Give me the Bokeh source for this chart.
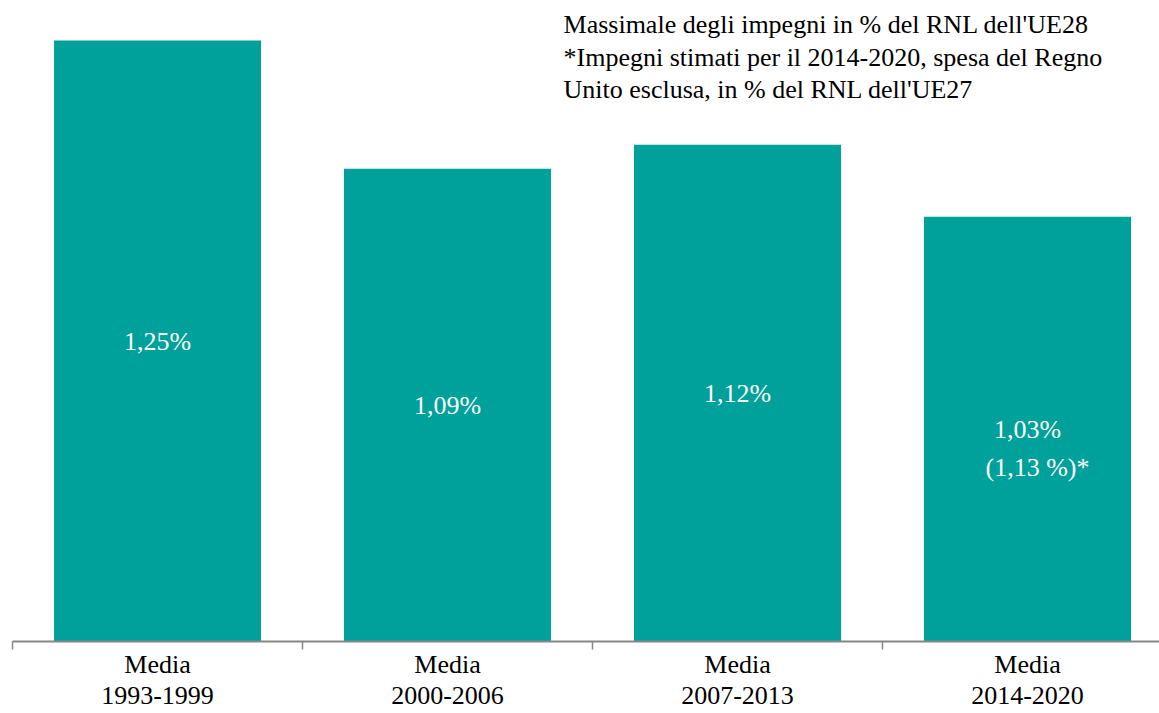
from bokeh.plotting import figure
from bokeh.models import Range1d, FixedTicker, ColumnDataSource, Label, LinearAxis
from bokeh.embed import file_html
from bokeh.resources import INLINE
from bokeh.core.properties import value

# ---- data ----
categories = ["Media\n1993-1999", "Media\n2000-2006", "Media\n2007-2013", "Media\n2014-2020"]
values = [1.25, 1.09, 1.12, 1.03]
value_labels = ["1,25%", "1,09%", "1,12%", "1,03%"]
extra_label = "(1,13 %)*"
note_lines = [
    "Massimale degli impegni in % del RNL dell'UE28",
    "*Impegni stimati per il 2014-2020, spesa del Regno",
    "Unito esclusa, in % del RNL dell'UE27",
]

BAR = "#00A19B"
FONT = "Liberation Serif"
y0 = 0.5

xs = [i + 0.5 for i in range(len(categories))]
mids = [(v + y0) / 2 for v in values]
src = ColumnDataSource(dict(x=xs, top=values, mid=mids, lab=value_labels))

p = figure(width=1159, height=713, output_backend="svg", toolbar_location=None,
           x_range=Range1d(0, 3.955), y_range=Range1d(y0, 1.3),
           x_axis_location=None, y_axis_location=None,
           min_border_left=12, min_border_right=0, min_border_top=0, min_border_bottom=72)
p.outline_line_color = None
p.grid.visible = False

p.vbar(x="x", top="top", bottom=y0, width=0.714, source=src,
       fill_color=BAR, line_color=None)

p.text(x="x", y="mid", text="lab", source=src, text_color="white",
       text_font=value(FONT), text_font_size="26px",
       text_align="center", text_baseline="middle")

p.text(x=[xs[3]], y=[mids[3]], text=[extra_label], text_color="white",
       text_font=value(FONT), text_font_size="26px",
       text_align="center", text_baseline="middle", x_offset=10, y_offset=38)

ax = LinearAxis(ticker=FixedTicker(ticks=xs, minor_ticks=list(range(len(categories) + 1))))
ax.major_label_overrides = {x: c for x, c in zip(xs, categories)}
ax.major_tick_out = 0
ax.major_tick_in = 0
ax.minor_tick_out = 8
ax.minor_tick_in = 0
ax.minor_tick_line_color = "#868686"
ax.minor_tick_line_width = 1.5
ax.axis_line_color = "#868686"
ax.axis_line_width = 2
ax.major_label_standoff = 0
ax.major_label_text_font = FONT
ax.major_label_text_font_size = "26px"
ax.major_label_text_color = "black"
ax.major_label_text_line_height = 1.1
p.add_layout(ax, "below")

p.add_layout(Label(x=1.9, y=1.288, text="\n".join(note_lines),
                   text_font=FONT, text_font_size="26px", text_color="black",
                   text_align="left", text_baseline="top", text_line_height=1.12))

open("out.html", "w").write(file_html(p, INLINE))
